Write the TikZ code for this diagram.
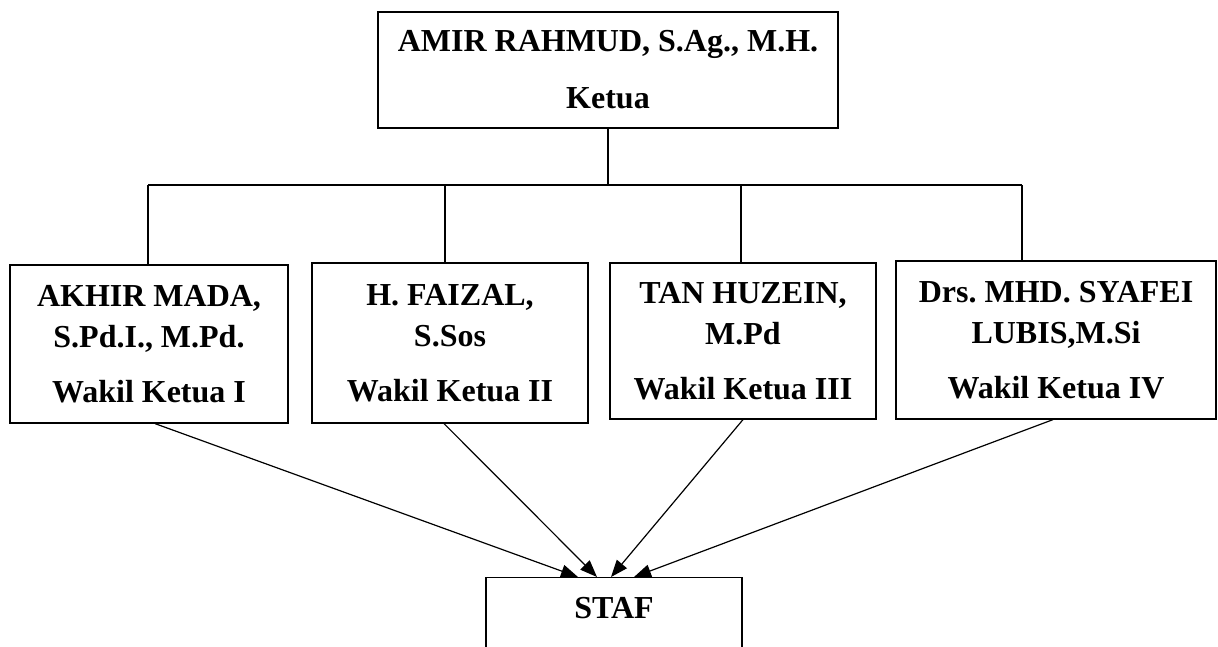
\documentclass[tikz,border=0pt]{standalone}
\usepackage{fontspec}
\setmainfont{Liberation Serif}
\usetikzlibrary{arrows.meta}
\frenchspacing
\tikzset{
    box/.style={draw, line width=1.2pt, align=center, inner sep=0pt,
        font=\fontsize{32}{41}\selectfont\bfseries},
    link/.style={line width=1.2pt},
    tolink/.style={line width=1.2pt, -{Triangle[length=17pt,width=13pt]}}
}
\begin{document}
\begin{tikzpicture}[x=1pt,y=-1pt]
    \clip (0,0) rectangle (1218,646);
    % Boxes
    \node[box, minimum width=460pt, minimum height=116pt] (ketua) at (608,70)
        {AMIR RAHMUD, S.Ag., M.H.\\[16pt] Ketua};
    \node[box, minimum width=278pt, minimum height=158pt] (wk1) at (149,344)
        {AKHIR MADA,\\ S.Pd.I., M.Pd.\\[14pt] Wakil Ketua I};
    \node[box, minimum width=276pt, minimum height=160pt] (wk2) at (450,343)
        {H. FAIZAL,\\ S.Sos\\[14pt] Wakil Ketua II};
    \node[box, minimum width=266pt, minimum height=156pt] (wk3) at (743,341)
        {TAN HUZEIN,\\ M.Pd\\[14pt] Wakil Ketua III};
    \node[box, minimum width=320pt, minimum height=158pt] (wk4) at (1056,340)
        {Drs. MHD. SYAFEI\\ LUBIS,M.Si\\[14pt] Wakil Ketua IV};
    \node[box, minimum width=256pt, inner ysep=20pt, text depth=60pt, anchor=north] (staf) at (614,577)
        {STAF};
    % Coordinate
    \coordinate (busL) at (148,185);
    \coordinate (busR) at (1022,185);
    % Linee
    \draw [link] (ketua.south) -- (ketua.south |- busL);
    \draw [link] (busL) -- (busR);
    \foreach \n/\dx in {wk1/-1, wk2/-5, wk3/-2, wk4/-34}
        \draw [link] ([xshift=\dx pt]\n.north) -- ([xshift=\dx pt]\n.north |- busL);
    % Frecce
    \draw [tolink] ([xshift=6pt]wk1.south) -- ([xshift=-36pt]staf.north);
    \draw [tolink] ([xshift=-6pt]wk2.south) -- ([xshift=-17pt]staf.north);
    \draw [tolink] (wk3.south) -- ([xshift=-3pt]staf.north);
    \draw [tolink] ([xshift=-3pt]wk4.south) -- ([xshift=20pt]staf.north);
\end{tikzpicture}
\end{document}
